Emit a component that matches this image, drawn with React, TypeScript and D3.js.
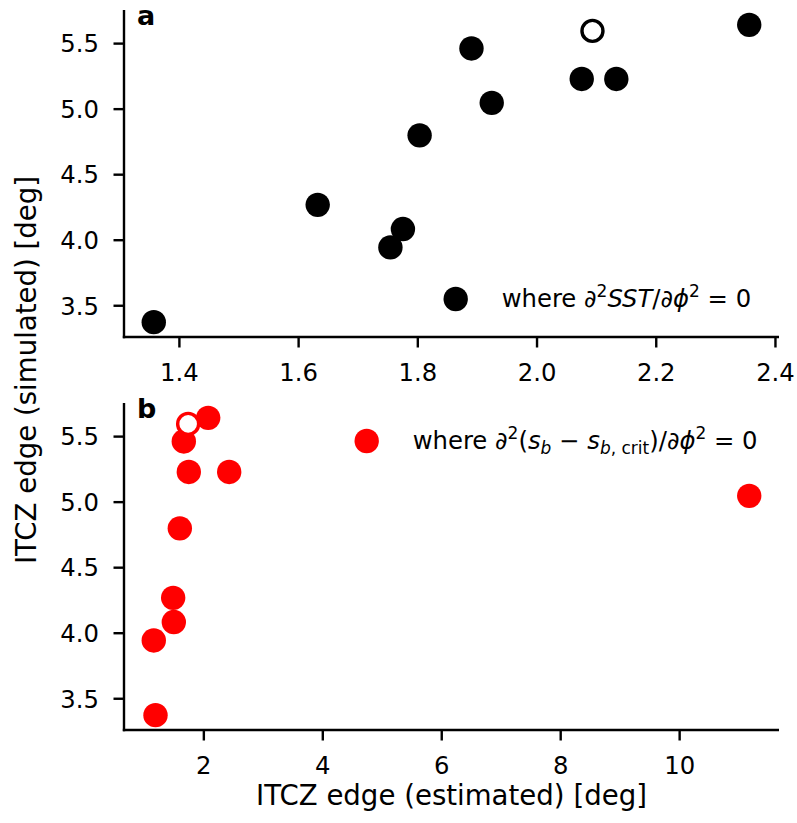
import React from "react";
import * as d3 from "d3";

// ---- data ----
const ySimulated = [3.375, 4.27, 3.945, 4.085, 4.8, 5.463, 5.048, 5.23, 5.23, 5.643];
const xSstEstimate = [1.357, 1.632, 1.754, 1.775, 1.803, 1.89, 1.924, 2.075, 2.133, 2.356];
const xSbEstimate = [1.187, 1.484, 1.158, 1.495, 1.596, 1.663, 11.17, 1.747, 2.426, 2.073];
const ySimulatedOpen = [5.597];
const xSstOpen = [2.093];
const xSbOpen = [1.736];

const xTicksA = [1.4, 1.6, 1.8, 2.0, 2.2, 2.4];
const xTicksB = [2, 4, 6, 8, 10];
const yTicks = [3.5, 4.0, 4.5, 5.0, 5.5];

const FONT = "DejaVu Sans";
const W = 797, H = 823;
const L = 124, R = 779;
const A = { top: 10, bottom: 337 };
const B = { top: 403, bottom: 730 };
const TICK = 10.5;
const SW = 2.4;
const FS = 24.3;
const SFS = 17;
const LFS = 27.6;
const RAD = 12.2;

function padded(vals: number[]): [number, number] {
  const [mn, mx] = d3.extent(vals) as [number, number];
  const r = mx - mn;
  return [mn - 0.05 * r, mx + 0.05 * r];
}

const yAll = ySimulated.concat(ySimulatedOpen);
const yA = d3.scaleLinear().domain(padded(yAll)).range([A.bottom, A.top]);
const yB = d3.scaleLinear().domain(padded(yAll)).range([B.bottom, B.top]);
const xA = d3.scaleLinear().domain(padded(xSstEstimate.concat(xSstOpen))).range([L, R]);
const xB = d3.scaleLinear().domain(padded(xSbEstimate.concat(xSbOpen))).range([L, R]);

function Panel(props: {
  x: d3.ScaleLinear<number, number>;
  y: d3.ScaleLinear<number, number>;
  xs: number[];
  xo: number[];
  xTicks: number[];
  xFmt: (v: number) => string;
  top: number;
  bottom: number;
  color: string;
  label: string;
}) {
  const { x, y, xs, xo, xTicks, xFmt, top, bottom, color, label } = props;
  return (
    <g>
      {xs.map((v, i) => (
        <circle key={"p" + i} cx={x(v)} cy={y(ySimulated[i])} r={RAD} fill={color} />
      ))}
      {xo.map((v, i) => (
        <circle key={"o" + i} cx={x(v)} cy={y(ySimulatedOpen[i])} r={RAD - 1.7} fill="#fff" stroke={color} strokeWidth={3.4} />
      ))}
      <line x1={L} x2={L} y1={top} y2={bottom + SW / 2} stroke="#000" strokeWidth={SW} />
      <line x1={L - SW / 2} x2={R} y1={bottom} y2={bottom} stroke="#000" strokeWidth={SW} />
      {yTicks.map((t) => (
        <g key={"y" + t}>
          <line x1={L - TICK} x2={L} y1={y(t)} y2={y(t)} stroke="#000" strokeWidth={SW} />
          <text x={L - 25} y={y(t)} dy="0.36em" textAnchor="end" fontFamily={FONT} fontSize={FS}>
            {t.toFixed(1)}
          </text>
        </g>
      ))}
      {xTicks.map((t) => (
        <g key={"x" + t}>
          <line x1={x(t)} x2={x(t)} y1={bottom} y2={bottom + TICK} stroke="#000" strokeWidth={SW} />
          <text x={x(t)} y={bottom + 44} textAnchor="middle" fontFamily={FONT} fontSize={FS}>
            {xFmt(t)}
          </text>
        </g>
      ))}
      <text x={137} y={top + 14.5} fontFamily={FONT} fontWeight="bold" fontSize={27}>
        {label}
      </text>
    </g>
  );
}

export default function App() {
  return (
    <svg width={W} height={H} style={{ display: "block", position: "absolute", left: 0, top: 0 }}>
      <rect width={W} height={H} fill="#fff" />
      <Panel x={xA} y={yA} xs={xSstEstimate} xo={xSstOpen} xTicks={xTicksA} xFmt={(v) => v.toFixed(1)}
        top={A.top} bottom={A.bottom} color="#000" label="a" />
      <Panel x={xB} y={yB} xs={xSbEstimate} xo={xSbOpen} xTicks={xTicksB} xFmt={(v) => String(v)}
        top={B.top} bottom={B.bottom} color="#ff0000" label="b" />

      {/* legend a */}
      <circle cx={455.7} cy={299} r={RAD} fill="#000" />
      <text x={501.7} y={307} fontFamily={FONT} fontSize={FS}>
        <tspan>where ∂</tspan>
        <tspan dy={-10} fontSize={SFS}>2</tspan>
        <tspan dy={10} fontStyle="italic">SST</tspan>
        <tspan>/∂</tspan>
        <tspan fontStyle="italic">ϕ</tspan>
        <tspan dy={-10} fontSize={SFS}>2</tspan>
        <tspan dy={10}>{"\u00A0=\u00A00"}</tspan>
      </text>

      {/* legend b */}
      <circle cx={366.7} cy={441} r={RAD} fill="#ff0000" />
      <text x={412.7} y={449} fontFamily={FONT} fontSize={FS}>
        <tspan>where ∂</tspan>
        <tspan dy={-10} fontSize={SFS}>2</tspan>
        <tspan dy={10}>(</tspan>
        <tspan fontStyle="italic">s</tspan>
        <tspan dy={5} fontSize={SFS} fontStyle="italic">b</tspan>
        <tspan dy={-5}>{"\u00A0−\u00A0"}</tspan>
        <tspan fontStyle="italic">s</tspan>
        <tspan dy={5} fontSize={SFS} fontStyle="italic">b</tspan>
        <tspan fontSize={SFS}>{",\u00A0crit"}</tspan>
        <tspan dy={-5}>)/∂</tspan>
        <tspan fontStyle="italic">ϕ</tspan>
        <tspan dy={-10} fontSize={SFS}>2</tspan>
        <tspan dy={10}>{"\u00A0=\u00A00"}</tspan>
      </text>

      <text x={(L + R) / 2} y={805} textAnchor="middle" fontFamily={FONT} fontSize={LFS}>
        ITCZ edge (estimated) [deg]
      </text>
      <text transform={`translate(36,${(A.top + B.bottom) / 2}) rotate(-90)`} textAnchor="middle" fontFamily={FONT} fontSize={LFS}>
        ITCZ edge (simulated) [deg]
      </text>
    </svg>
  );
}
